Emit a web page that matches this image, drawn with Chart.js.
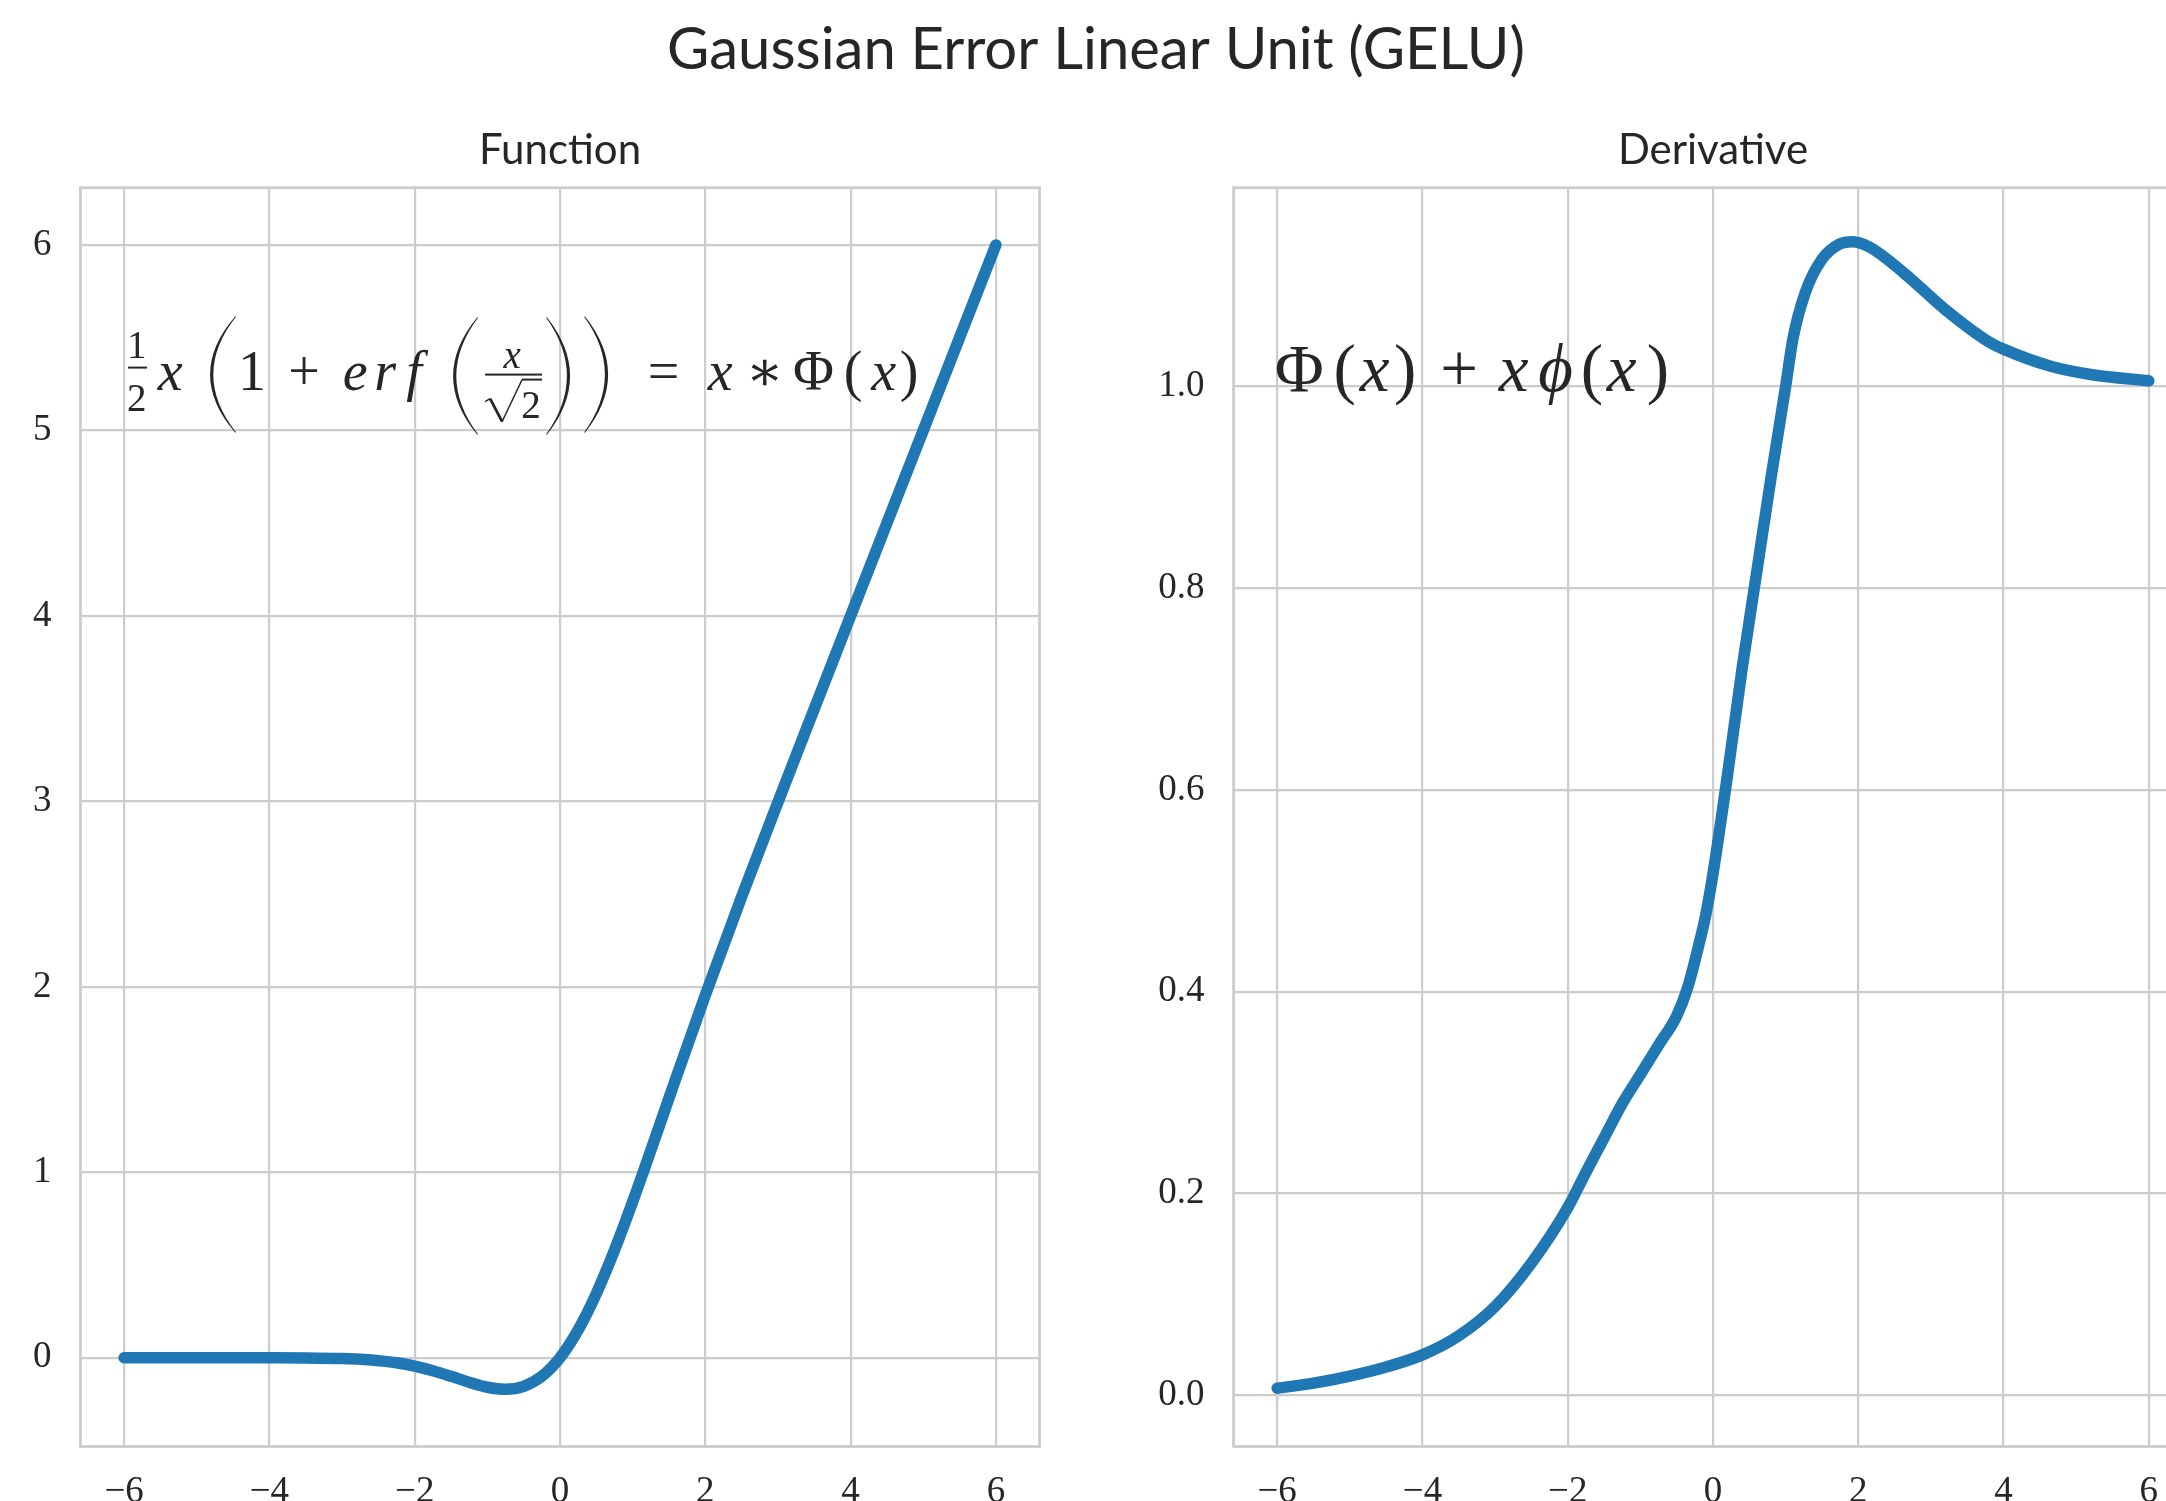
<!DOCTYPE html>
<html>
<head>
<meta charset="utf-8">
<title>Gaussian Error Linear Unit (GELU)</title>
<script src="https://cdn.jsdelivr.net/npm/chart.js@4/dist/chart.umd.min.js"></script>
<style>
  html, body { margin: 0; padding: 0; background: #ffffff; overflow: hidden; }
  #figure { position: relative; width: 2166px; height: 1501px; overflow: hidden; background: #ffffff; }
  #gelu { position: absolute; left: 0; top: 0; }
  #dgelu { position: absolute; left: 1100px; top: 0; }
</style>
</head>
<body>
<div id="figure">
  <canvas id="gelu" width="2166" height="1501"></canvas>
  <canvas id="dgelu" width="1100" height="1501"></canvas>
</div>
<script>
// ---- data -------------------------------------------------------------
const figureTitle = 'Gaussian Error Linear Unit (GELU)';
const panelTitles = ['Function', 'Derivative'];

// GELU(x) = x * Phi(x)
const xFunction = [-6, -5.5, -5, -4.5, -4, -3.5, -3, -2.75, -2.5, -2.25, -2, -1.75, -1.5, -1.25,
                   -1, -0.75, -0.5, -0.25, 0, 0.25, 0.5, 0.75, 1, 1.25, 1.5, 2, 2.5, 3, 3.5, 4, 5, 6];
const yFunction = [0, 0, 0, 0, -0.0001, -0.0008, -0.004, -0.008, -0.016, -0.027, -0.045, -0.070, -0.100, -0.132,
                   -0.159, -0.170, -0.154, -0.100, 0, 0.150, 0.346, 0.580, 0.841, 1.118, 1.400, 1.955, 2.485, 2.996, 3.499, 4.0, 5.0, 6.0];

// derivative curve
const xDerivative = [-6, -5.5, -5, -4.5, -4, -3.5, -3, -2.5, -2, -1.75, -1.5, -1.25, -1, -0.75, -0.5, -0.35, -0.2, -0.1,
                     0, 0.2, 0.4, 0.6, 0.8, 1.0, 1.1, 1.27, 1.5, 1.74, 1.92, 2.16, 2.62, 3.2, 3.78, 4.0, 4.65, 5.22, 6];
const yDerivative = [0.007, 0.012, 0.019, 0.028, 0.040, 0.059, 0.088, 0.131, 0.186, 0.221, 0.255, 0.289, 0.318, 0.347, 0.376, 0.404, 0.445, 0.476,
                     0.517, 0.615, 0.720, 0.815, 0.910, 1.0, 1.047, 1.093, 1.126, 1.141, 1.1435, 1.138, 1.113, 1.076, 1.045, 1.037, 1.020, 1.0116, 1.0056];

const xTickValues = [-6, -4, -2, 0, 2, 4, 6];
const yTicksFunction = [0, 1, 2, 3, 4, 5, 6];
const yTicksDerivative = [0, 0.2, 0.4, 0.6, 0.8, 1.0];

// ---- style ------------------------------------------------------------
const INK = '#262626';
const GRID = '#cccccc';
const LINE = '#1f77b4';
const SERIF = "'Liberation Serif', 'DejaVu Serif', serif";
const SANS = "Lato, 'Open Sans', sans-serif";
const TICK_SIZE = 37;

function fmt(v, digits) {
  const s = Math.abs(v).toFixed(digits);
  return v < -1e-9 ? '\u2212' + s : s;
}

function points(xs, ys) {
  return xs.map((x, i) => ({ x: x, y: ys[i] }));
}

function axis(tickValues, min, max, digits, horizontal, size) {
  return {
    type: 'linear',
    min: min,
    max: max,
    afterBuildTicks: s => { s.ticks = tickValues.map(v => ({ value: v })); },
    afterFit: s => { if (horizontal) s.height = size; else s.width = size; },
    grid: { color: GRID, lineWidth: 2.2, drawTicks: false },
    border: { display: false },
    ticks: {
      color: INK,
      font: { family: SERIF, size: TICK_SIZE },
      padding: horizontal ? 24 : 29,
      maxRotation: 0,
      autoSkip: false,
      callback: v => fmt(v, digits)
    }
  };
}

// ---- math typesetting helpers ---------------------------------------------
function fence(ctx, ox, oy, p) {
  const open = p.k === '(';
  const tip = ox + (open ? p.x2 : p.x1);
  const belly = ox + (open ? p.x1 : p.x2);
  const dir = open ? 1 : -1;
  const yT = oy + p.top, yB = oy + p.bot, yM = (yT + yB) / 2;
  const e = dir * 1.1;
  ctx.beginPath();
  ctx.moveTo(tip, yT);
  ctx.quadraticCurveTo(2 * belly - tip, yM, tip, yB);
  ctx.lineTo(tip + e, yB);
  ctx.quadraticCurveTo(2 * (belly + dir * p.w) - (tip + e), yM, tip + e, yT);
  ctx.closePath();
  ctx.fill();
}

function radical(ctx, ox, oy, p) {
  ctx.lineCap = 'butt';
  ctx.lineJoin = 'round';
  ctx.lineWidth = 1.4;
  ctx.beginPath();
  ctx.moveTo(ox + p.hx - 2, oy + p.hy + 2);
  ctx.lineTo(ox + p.hx + 3, oy + p.hy - 1);
  ctx.stroke();
  ctx.lineWidth = 2.8;
  ctx.beginPath();
  ctx.moveTo(ox + p.hx + 3, oy + p.hy - 1);
  ctx.lineTo(ox + p.fx, oy + p.fy);
  ctx.stroke();
  ctx.lineWidth = 1.4;
  ctx.beginPath();
  ctx.moveTo(ox + p.fx, oy + p.fy);
  ctx.lineTo(ox + p.tx, oy + p.ty);
  ctx.stroke();
  ctx.fillRect(ox + p.tx, oy + p.ty - 1, p.ex - p.tx, 2);
}

function drawFormula(ctx, parts, size, ox, oy) {
  ctx.save();
  ctx.fillStyle = INK;
  ctx.strokeStyle = INK;
  ctx.textAlign = 'center';
  ctx.textBaseline = 'alphabetic';
  for (const p of parts) {
    if (p.k === 'g') {
      ctx.font = (p.it ? 'italic ' : '') + (p.size || size) + 'px ' + SERIF;
      ctx.fillText(p.s, ox + p.x, oy + (p.y || 0));
    } else if (p.k === 'bar') {
      ctx.fillRect(ox + p.x1, oy + p.y - 1, p.x2 - p.x1, 2);
    } else if (p.k === '(' || p.k === ')') {
      fence(ctx, ox, oy, p);
    } else if (p.k === 'rad') {
      radical(ctx, ox, oy, p);
    }
  }
  ctx.restore();
}

// 1/2 x (1 + erf(x / sqrt 2)) = x * Phi(x)
const formulaFunction = [
  { k: 'g', s: '1', x: 12.7, y: -32, size: 39 },
  { k: 'bar', x1: 4, x2: 23, y: -22 },
  { k: 'g', s: '2', x: 12.7, y: 21, size: 39 },
  { k: 'g', s: 'x', x: 46, it: true },
  { k: '(', x1: 86, x2: 111, top: -73, bot: 43, w: 3.2 },
  { k: 'g', s: '1', x: 128 },
  { k: 'g', s: '+', x: 180 },
  { k: 'g', s: 'e', x: 231, it: true },
  { k: 'g', s: 'r', x: 261, it: true },
  { k: 'g', s: 'f', x: 290, it: true },
  { k: '(', x1: 329, x2: 353, top: -72, bot: 45, w: 3.2 },
  { k: 'g', s: 'x', x: 388, y: -22, size: 39, it: true },
  { k: 'bar', x1: 361, x2: 418, y: -15 },
  { k: 'rad', hx: 363, hy: 10, fx: 378, fy: 32, tx: 398, ty: -10, ex: 418 },
  { k: 'g', s: '2', x: 407, y: 28, size: 39 },
  { k: ')', x1: 423, x2: 446, top: -72, bot: 45, w: 3.2 },
  { k: ')', x1: 461, x2: 484, top: -73, bot: 43, w: 3.2 },
  { k: 'g', s: '=', x: 539.5 },
  { k: 'g', s: 'x', x: 596, it: true },
  { k: 'g', s: '\u2217', x: 640.5 },
  { k: 'g', s: '\u03A6', x: 689.5 },
  { k: 'g', s: '(', x: 729 },
  { k: 'g', s: 'x', x: 759.5, it: true },
  { k: 'g', s: ')', x: 785 }
];

// Phi(x) + x phi(x)
const formulaDerivative = [
  { k: 'g', s: '\u03A6', x: 22 },
  { k: 'g', s: '(', x: 67.5 },
  { k: 'g', s: 'x', x: 97.5, it: true },
  { k: 'g', s: ')', x: 128 },
  { k: 'g', s: '+', x: 182 },
  { k: 'g', s: 'x', x: 236.5, it: true },
  { k: 'g', s: '\u03D5', x: 278.5, it: true },
  { k: 'g', s: '(', x: 314.7 },
  { k: 'g', s: 'x', x: 344.5, it: true },
  { k: 'g', s: ')', x: 380.7 }
];

// ---- plugins ----------------------------------------------------------
function panelPlugin(title, formula, formulaSize, anchor) {
  return {
    id: 'panelDecor',
    beforeDatasetsDraw(chart) {
      const { ctx, chartArea: a } = chart;
      ctx.save();
      ctx.strokeStyle = GRID;
      ctx.lineWidth = 2.8;
      ctx.strokeRect(a.left, a.top, a.right - a.left, a.bottom - a.top);
      ctx.restore();
    },
    afterDatasetsDraw(chart) {
      const { ctx, chartArea: a, scales } = chart;
      ctx.save();
      ctx.fillStyle = INK;
      ctx.font = '42px ' + SANS;
      ctx.textAlign = 'center';
      ctx.textBaseline = 'alphabetic';
      ctx.fillText(title, (a.left + a.right) / 2, 164);
      ctx.restore();
      drawFormula(ctx, formula, formulaSize,
        scales.x.getPixelForValue(anchor[0]), scales.y.getPixelForValue(anchor[1]));
    }
  };
}

const figureTitlePlugin = {
  id: 'figureTitle',
  afterDraw(chart) {
    const ctx = chart.ctx;
    ctx.save();
    ctx.fillStyle = INK;
    ctx.font = '58px ' + SANS;
    ctx.textAlign = 'center';
    ctx.textBaseline = 'alphabetic';
    ctx.fillText(figureTitle, 1096, 69);
    ctx.restore();
  }
};

function lineDataset(data) {
  return {
    data: data,
    borderColor: LINE,
    borderWidth: 11.5,
    borderCapStyle: 'round',
    borderJoinStyle: 'round',
    pointRadius: 0,
    fill: false,
    cubicInterpolationMode: 'monotone'
  };
}

function baseOptions(padding, xScale, yScale) {
  return {
    responsive: false,
    animation: false,
    devicePixelRatio: 1,
    events: [],
    layout: { padding: padding },
    plugins: { legend: { display: false }, title: { display: false }, tooltip: { enabled: false } },
    scales: { x: xScale, y: yScale }
  };
}

// ---- charts -----------------------------------------------------------
new Chart(document.getElementById('gelu'), {
  type: 'line',
  data: { datasets: [lineDataset(points(xFunction, yFunction))] },
  options: baseOptions(
    { left: 0, top: 187.7, right: 2166 - 1039.5, bottom: 0 },
    axis(xTickValues, -6.6, 6.6, 0, true, 54.5),
    axis(yTicksFunction, -0.4785, 6.3085, 0, false, 80.5)
  ),
  plugins: [panelPlugin(panelTitles[0], formulaFunction, 56, [-6, 5.22]), figureTitlePlugin]
});

new Chart(document.getElementById('dgelu'), {
  type: 'line',
  data: { datasets: [lineDataset(points(xDerivative, yDerivative))] },
  options: baseOptions(
    { left: 0, top: 187.7, right: 7.6, bottom: 0 },
    axis(xTickValues, -6.6, 6.6, 0, true, 54.5),
    axis(yTicksDerivative, -0.0508, 1.197, 1, false, 133.6)
  ),
  plugins: [panelPlugin(panelTitles[1], formulaDerivative, 67, [-6, 0.995])]
});
</script>
</body>
</html>
